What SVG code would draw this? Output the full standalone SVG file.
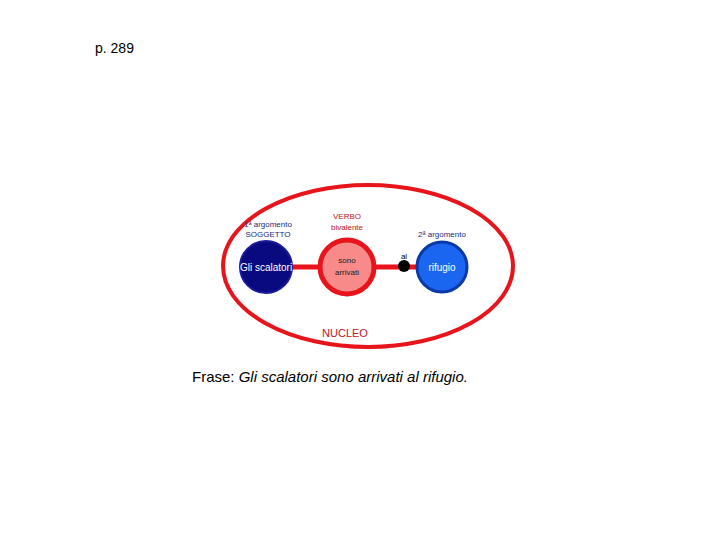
<svg xmlns="http://www.w3.org/2000/svg" width="720" height="540" viewBox="0 0 720 540">
<style>
text{font-family:"Liberation Sans",Arial,sans-serif}
.s{font-size:8px;text-anchor:middle}
.w{fill:#fff;font-size:10px;text-anchor:middle}
</style>
<rect width="720" height="540" fill="#fff"/>
<text x="95" y="53" font-size="14">p. 289</text>
<g id="nucleo"><ellipse cx="368" cy="266" rx="145" ry="81" fill="none" stroke="#e8141c" stroke-width="4"/>
<text x="345" y="337" font-size="11" fill="#c0141c" text-anchor="middle">NUCLEO</text></g>
<g id="connectors"><line x1="290" y1="267" x2="420" y2="267" stroke="#e8141c" stroke-width="5"/><circle cx="404" cy="266" r="6" fill="#000"/><text x="404" y="259" class="s" font-size="10">al</text></g>
<g id="soggetto"><circle cx="266" cy="267" r="26" fill="#0a0a80" stroke="#1a1a9a" stroke-width="2"/><text x="266" y="271" class="w" font-size="9">Gli scalatori</text>
<text x="268" y="227" class="s" fill="#1a2a80">1ª argomento</text><text x="268" y="237" class="s" fill="#1a2a80">SOGGETTO</text></g>
<g id="verbo"><circle cx="347" cy="267" r="27" fill="#f88a8a" stroke="#e8141c" stroke-width="5"/><text x="347" y="263" class="s" font-size="9" fill="#222">sono</text><text x="347" y="275" class="s" font-size="9" fill="#222">arrivati</text>
<text x="347" y="219" class="s" fill="#c0141c">VERBO</text><text x="347" y="230" class="s" fill="#c0141c">bivalente</text></g>
<g id="rifugio"><circle cx="442" cy="267" r="25" fill="#1a66f0" stroke="#0a3aa8" stroke-width="3"/><text x="442" y="271" class="w" font-size="9">rifugio</text>
<text x="442" y="237" class="s" fill="#1a2a80">2ª argomento</text></g>
<text x="192" y="382" font-size="15">Frase: <tspan font-style="italic">Gli scalatori sono arrivati al rifugio.</tspan></text>
</svg>
